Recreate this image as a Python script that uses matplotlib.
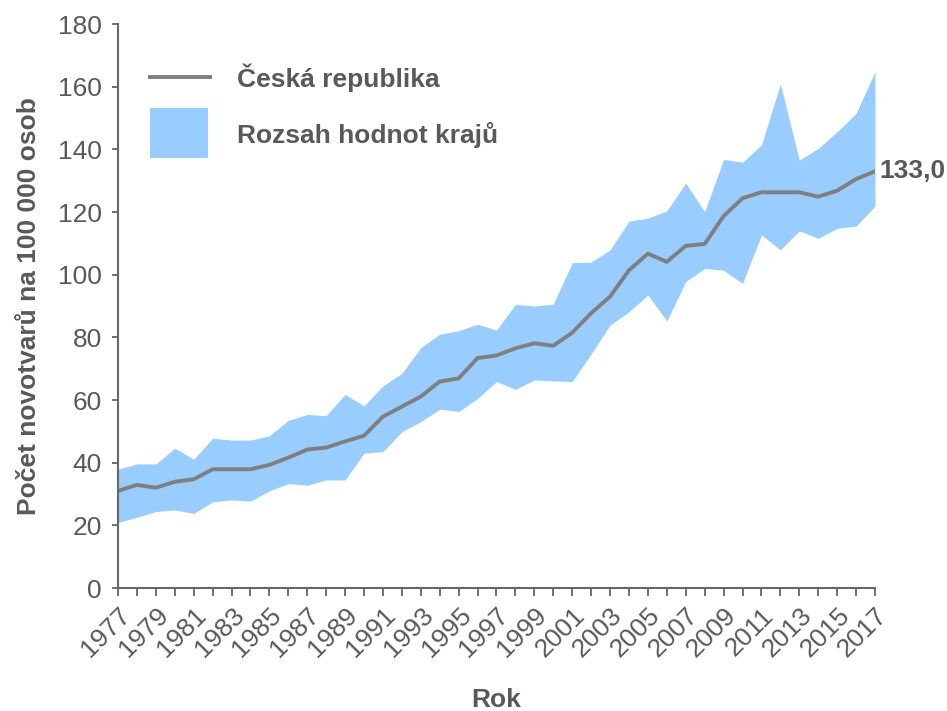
import matplotlib
matplotlib.use("Agg")
import matplotlib.pyplot as plt
from matplotlib.patches import Rectangle

plt.rcParams['font.family'] = ['Liberation Sans', 'DejaVu Sans']

years = list(range(1977, 2018))
cr = [31.0, 32.9, 32.0, 33.9, 34.7, 37.9, 37.9, 37.9, 39.3, 41.6,
      44.2, 44.8, 46.8, 48.6, 54.7, 57.9, 61.1, 65.9, 66.9, 73.4,
      74.2, 76.5, 78.1, 77.3, 81.5, 87.7, 93.0, 101.4, 106.7, 104.1,
      109.2, 109.8, 118.7, 124.4, 126.3, 126.3, 126.3, 124.9, 126.8, 130.5,
      133.0]
upper = [37.9, 39.6, 39.6, 44.6, 41.1, 47.8, 47.2, 47.2, 48.6, 53.5,
         55.4, 55.0, 61.8, 58.1, 64.5, 68.5, 76.7, 81.0, 82.1, 84.2,
         82.3, 90.5, 90.0, 90.6, 103.8, 104.0, 107.9, 117.1, 118.0, 120.4,
         129.2, 120.1, 136.8, 135.9, 141.4, 160.9, 136.6, 140.3, 145.6, 151.5,
         164.8]
lower = [20.9, 22.6, 24.4, 24.9, 23.8, 27.5, 28.1, 27.7, 31.0, 33.3,
         32.8, 34.5, 34.5, 43.0, 43.5, 49.9, 53.1, 57.1, 56.3, 60.5,
         65.9, 63.4, 66.4, 66.1, 65.9, 74.7, 83.9, 88.2, 93.5, 85.2,
         97.8, 102.0, 101.4, 97.2, 112.7, 107.9, 114.0, 111.6, 114.8, 115.5,
         121.9]
yticks = [0, 20, 40, 60, 80, 100, 120, 140, 160, 180]
xlabels_years = years[::2]
legend_labels = ['Česká republika', 'Rozsah hodnot krajů']

gray_text = '#595959'
band_color = '#99CCFF'
line_color = '#7F7F7F'
axis_color = '#666666'

W, H = 947, 711
AX_L, AX_R, AX_T, AX_B = 118, 875, 24, 588

fig = plt.figure(figsize=(W/100, H/100), dpi=100)
ax = fig.add_axes([AX_L/W, 1-AX_B/H, (AX_R-AX_L)/W, (AX_B-AX_T)/H])

def axx(px):
    return (px - AX_L) / (AX_R - AX_L)

def axy(py):
    return 1 - (py - AX_T) / (AX_B - AX_T)

ax.fill_between(years, lower, upper, color=band_color, linewidth=0, zorder=1)
ax.plot(years, cr, color=line_color, linewidth=2.8, zorder=2)

ax.set_xlim(years[0], years[-1])
ax.set_ylim(0, 180)
ax.set_yticks(yticks)
ax.set_xticks(years)
ax.set_xticklabels([str(y) if y in xlabels_years else '' for y in years],
                   rotation=45, ha='right', rotation_mode='anchor')

for side in ['top', 'right']:
    ax.spines[side].set_visible(False)
for side in ['left', 'bottom']:
    ax.spines[side].set_color(axis_color)
    ax.spines[side].set_linewidth(1.5)

ax.tick_params(axis='y', direction='out', length=4.5, width=1.3, color=axis_color,
               labelsize=19, labelcolor=gray_text, pad=7)
ax.tick_params(axis='x', direction='out', length=6, width=1.3, color=axis_color,
               labelsize=19, labelcolor=gray_text, pad=5)

ax.set_ylabel('Počet novotvarů na 100 000 osob', fontsize=19, fontweight='bold',
              color=gray_text)
ax.yaxis.set_label_coords(axx(41), 0.5)
ax.set_xlabel('Rok', fontsize=19, fontweight='bold', color=gray_text)
ax.xaxis.set_label_coords(0.5, axy(688))

ax.annotate(f"{cr[-1]:.1f}".replace('.', ','), xy=(years[-1], cr[-1]),
            xytext=(3, 0), textcoords='offset points', ha='left', va='center',
            fontsize=19, fontweight='bold', color=gray_text, annotation_clip=False)

# legend (drawn manually to match the reference layout)
ax.plot([axx(150), axx(210)], [axy(77), axy(77)], transform=ax.transAxes,
        color=line_color, linewidth=2.8, clip_on=False, zorder=3)
ax.add_patch(Rectangle((axx(150), axy(158)), axx(208) - axx(150), axy(108) - axy(158),
                       transform=ax.transAxes, facecolor=band_color,
                       edgecolor='none', clip_on=False, zorder=3))
ax.text(axx(237), axy(78), legend_labels[0], transform=ax.transAxes,
        fontsize=19, fontweight='bold', color=gray_text, ha='left', va='center')
ax.text(axx(237), axy(135), legend_labels[1], transform=ax.transAxes,
        fontsize=19, fontweight='bold', color=gray_text, ha='left', va='center')

fig.savefig('out.png', dpi=100)
